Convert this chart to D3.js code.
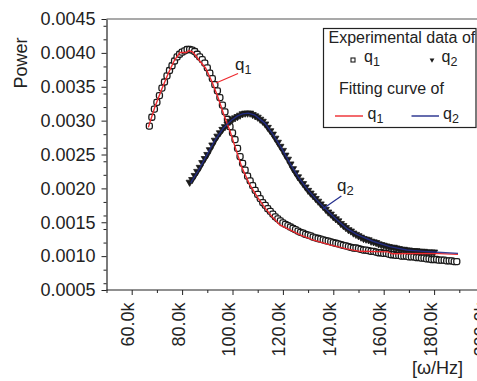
<!DOCTYPE html>
<html><head><meta charset="utf-8">
<script src="https://cdn.jsdelivr.net/npm/d3@7"></script>
<style>html,body{margin:0;padding:0;background:#fff;overflow:hidden}svg{display:block;font-family:"Liberation Sans",Arial,sans-serif}</style>
</head><body>
<svg id="c" width="477" height="381"></svg>
<script>
// frequency in kHz (axis labels show "k")
const q1Freq = [67,68,69,70,71,72,73,74,75,76,77,78,79,80,81,82,83,84,85,86,87,88,89,90,91,92,93,94,95,96,97,98,99,100,
  101,102,103,104,105,106,107,108,109,110,111,112,113,114,115,116,117,118,119,120,121,122,123,124,125,126,127,128,129,130,
  131,132,133,134,135,136,137,138,139,140,141,142,143,144,145,146,147,148,149,150,151,152,153,154,155,156,157,158,159,160,
  161,162,163,164,165,166,167,168,169,170,171,172,173,174,175,176,177,178,179,180,181,182,183,184,185,186,187,188,189];
const q1Power = [.00292,.00305,.00317,.00327,.00337,.00348,.00357,.00366,.00374,.00381,.00388,.00394,.00398,.00401,.00403,.00405,.00405,.00404,.00402,.00398,
  .00394,.00390,.00385,.00378,.00370,.00362,.00353,.00344,.00334,.00323,.00313,.00302,.00291,.00282,
  .00272,.00259,.00247,.00237,.00227,.00218,.00211,.00204,.00197,.00191,.00185,.00179,.00175,.00170,.00166,.00162,.00158,.00155,.00152,.00149,
  .00147,.00145,.00143,.00141,.00139,.00137,.00135,.00134,.00132,.00131,
  .00130,.00128,.00127,.00126,.00125,.00124,.00123,.00122,.00121,.00120,.00119,.00118,.00117,.00116,.00115,.00114,.00113,.00112,.00112,.00111,
  .00110,.00109,.00109,.00108,.00107,.00107,.00106,.00105,.00105,.00104,
  .00104,.00103,.00102,.00102,.00101,.00101,.00100,.00100,.00100,.00099,.00099,.00099,.00098,.00098,.00097,.00097,.00096,.00096,.00095,.00095,
  .00095,.00094,.00094,.00094,.00093,.00093,.00093,.00092,.00092];

const q2Freq = [83,84,85,86,87,88,89,90,91,92,93,94,95,96,97,98,99,100,
  101,102,103,104,105,106,107,108,109,110,111,112,113,114,115,116,117,118,119,120,121,122,123,124,125,126,127,128,129,130,
  131,132,133,134,135,136,137,138,139,140,141,142,143,144,145,146,147,148,149,150,151,152,153,154,155,156,157,158,159,160,
  161,162,163,164,165,166,167,168,169,170,171,172,173,174,175,176,177,178,179,180];
const q2Power = [.00209,.00213,.00219,.00225,.00231,.00238,.00244,.00250,.00257,.00264,.00271,.00277,.00282,.00287,.00291,.00295,.00299,.00302,
  .00304,.00306,.00308,.00310,.00311,.00311,.00311,.00309,.00307,.00305,.00302,.00299,.00295,.00290,.00285,.00280,.00274,.00268,.00262,.00256,
  .00249,.00243,.00236,.00229,.00223,.00217,.00212,.00207,.00202,.00197,
  .00193,.00189,.00185,.00181,.00177,.00173,.00169,.00165,.00162,.00158,.00155,.00152,.00148,.00145,.00142,.00139,.00137,.00134,.00132,.00130,
  .00128,.00126,.00125,.00124,.00122,.00121,.00120,.00118,.00117,.00116,
  .00115,.00114,.00113,.00113,.00112,.00111,.00110,.00110,.00109,.00109,.00108,.00108,.00108,.00107,.00107,.00107,.00106,.00106,.00106,.00106];

const q1FitFreq = [66.6,69.2,71.8,74.4,77.0,79.2,81.7,82.7,84.3,86.7,89.3,91.9,94.2,96.6,99.0,101.4,103.8,106.9,110.1,112.9,116.1,118.8,122.8,126.8,131.9,138.7,145.3,150.6,161.7,163.3,179.6,189.5];
const q1FitPower = [.00290,.00320,.003453,.003689,.003895,.004006,.004006,.004035,.004013,.003895,.003777,.003571,.003349,.003084,.002848,.002568,.002302,.002051,.00186,.001712,.001565,.001461,.001388,.001314,.00124,.001166,.001107,.001071,.001063,.001034,.001041,.001026];

const q2FitFreq = [83.4,86.4,89.8,93.0,96.4,99.7,102.0,104.0,106.3,108.9,112.9,116.2,119.5,122.8,126.1,129.4,133.4,137.4,141.3,145.3,149.3,155.7,162.5,169.1,175.7,179.6,189.5];
const q2FitPower = [.00208,.00226,.00249,.00271,.00289,.00301,.00307,.00310,.00311,.00308,.00296,.00279,.00259,.00237,.00217,.00200,.00183,.00168,.00154,.00141,.00132,.00122,.00114,.00109,.00107,.00106,.00104];

const xTickValues = [60,80,100,120,140,160,180,200];
const xTickLabels = ["60.0k","80.0k","100.0k","120.0k","140.0k","160.0k","180.0k","200.0k"];
const yTickValues = [0.0005,0.0010,0.0015,0.0020,0.0025,0.0030,0.0035,0.0040,0.0045];
const yTickLabels = ["0.0005","0.0010","0.0015","0.0020","0.0025","0.0030","0.0035","0.0040","0.0045"];

const RED = "#ee2a2f", BLUE = "#232d8c", INK = "#222";
const svg = d3.select("#c");
const x = d3.scaleLinear().domain([50,200]).range([106.5,484.5]);
const y = d3.scaleLinear().domain([0.0005,0.0045]).range([290,19]);

// top frame
svg.append("line").attr("x1",x(50)).attr("x2",x(215)).attr("y1",y(0.0045)).attr("y2",y(0.0045))
  .attr("stroke","#555").attr("stroke-width",1.2);

// y axis
const gyMinor = svg.append("g").attr("transform",`translate(${x(50)},0)`)
  .call(d3.axisLeft(y).tickValues(y.ticks(16).filter(v=>!yTickValues.some(m=>Math.abs(m-v)<1e-9))).tickSize(3).tickSizeOuter(0).tickFormat(""));
gyMinor.select(".domain").remove();
const gy = svg.append("g").attr("transform",`translate(${x(50)},0)`)
  .call(d3.axisLeft(y).tickValues(yTickValues).tickFormat((d,i)=>yTickLabels[i]).tickSize(5).tickSizeOuter(0).tickPadding(6));
gy.selectAll("text").attr("font-size",18).attr("fill",INK).attr("font-family","Liberation Sans, Arial, sans-serif");
gy.select(".domain").attr("stroke",INK).attr("stroke-width",1.2);

// x axis
const gxMinor = svg.append("g").attr("transform",`translate(0,${y(0.0005)})`)
  .call(d3.axisBottom(x).tickValues(d3.range(50,210,10).filter(v=>!xTickValues.includes(v))).tickSize(3).tickSizeOuter(0).tickFormat(""));
gxMinor.select(".domain").remove();
const gx = svg.append("g").attr("transform",`translate(0,${y(0.0005)})`)
  .call(d3.axisBottom(x).tickValues(xTickValues).tickFormat((d,i)=>xTickLabels[i]).tickSize(5).tickSizeOuter(0));
gx.select(".domain").attr("stroke",INK).attr("stroke-width",1.2).attr("d",`M${x(50)},0H${x(215)}`);
gx.selectAll("text").attr("font-size",18).attr("fill",INK).attr("font-family","Liberation Sans, Arial, sans-serif")
  .attr("transform","rotate(-90)").attr("text-anchor","end").attr("x",-12.5).attr("y",2).attr("dy",0);
svg.selectAll(".tick line").attr("stroke",INK);

// axis titles
svg.append("text").attr("transform","translate(27,63) rotate(-90)").attr("text-anchor","middle")
  .attr("font-size",18).attr("fill",INK).text("Power");
svg.append("text").attr("x",437.5).attr("y",374).attr("text-anchor","middle")
  .attr("font-size",18).attr("fill",INK).text("[ω/Hz]");

// data markers
const sq = 6;
svg.append("g").selectAll("rect").data(q1Freq.map((f,i)=>[f,q1Power[i]])).join("rect")
  .attr("x",d=>x(d[0])-sq/2).attr("y",d=>y(d[1])-sq/2).attr("width",sq).attr("height",sq).attr("rx",1.8)
  .attr("fill","#fff").attr("stroke","#1a1a1a").attr("stroke-width",1.3);
const tri = d3.symbol().type(d3.symbolTriangle).size(22);
svg.append("g").selectAll("path").data(q2Freq.map((f,i)=>[f,q2Power[i]])).join("path")
  .attr("d",tri).attr("transform",d=>`translate(${x(d[0])},${y(d[1])}) rotate(180)`)
  .attr("fill","#1a1a1a").attr("stroke","#1a1a1a").attr("stroke-width",0.8);

// fitting curves
const line = d3.line().x(d=>x(d[0])).y(d=>y(d[1]));
svg.append("path").datum(q1FitFreq.map((f,i)=>[f,q1FitPower[i]])).attr("d",line)
  .attr("fill","none").attr("stroke",RED).attr("stroke-width",1.4);
svg.append("path").datum(q2FitFreq.map((f,i)=>[f,q2FitPower[i]])).attr("d",line)
  .attr("fill","none").attr("stroke",BLUE).attr("stroke-width",1.4).attr("stroke-opacity",0.9);

// annotations
function qLabel(g, px, py, sub, size, subSize, col){
  const t = g.append("text").attr("x",px).attr("y",py).attr("font-size",size).attr("fill",col||INK);
  t.append("tspan").text("q");
  t.append("tspan").attr("dy",4).attr("font-size",subSize).text(sub);
  return t;
}
svg.append("line").attr("x1",x(93.45)).attr("y1",y(0.003556)).attr("x2",x(102.2)).attr("y2",y(0.003696))
  .attr("stroke",RED).attr("stroke-width",1.2);
qLabel(svg, x(101.0), y(0.003748), "1", 17, 12.5);
svg.append("line").attr("x1",x(135.9)).attr("y1",y(0.001698)).attr("x2",x(143.2)).attr("y2",y(0.001889))
  .attr("stroke",BLUE).attr("stroke-width",1.2);
qLabel(svg, x(141.5), y(0.001963), "2", 17, 13);

// legend
const lg = svg.append("g");
lg.append("rect").attr("x",323.5).attr("y",28.5).attr("width",152.5).attr("height",99)
  .attr("fill","#fff").attr("stroke",INK).attr("stroke-width",1.2);
lg.append("text").attr("x",328.5).attr("y",43).attr("font-size",16).attr("fill",INK).text("Experimental data of");
lg.append("rect").attr("x",351).attr("y",58).attr("width",4).attr("height",4).attr("fill","#fff").attr("stroke","#1a1a1a").attr("stroke-width",1.1);
qLabel(lg, 364, 61.5, "1", 16, 12.5);
lg.append("path").attr("d",d3.symbol().type(d3.symbolTriangle).size(10)).attr("transform","translate(432,60) rotate(180)")
  .attr("fill","#1a1a1a");
qLabel(lg, 441.5, 61.5, "2", 16, 12.5);
lg.append("text").attr("x",339).attr("y",94).attr("font-size",16).attr("fill",INK).text("Fitting curve of");
lg.append("line").attr("x1",335).attr("x2",363).attr("y1",116).attr("y2",116).attr("stroke",RED).attr("stroke-width",1.4);
qLabel(lg, 367.5, 118.5, "1", 16, 12.5);
lg.append("line").attr("x1",411.5).attr("x2",439).attr("y1",116).attr("y2",116).attr("stroke",BLUE).attr("stroke-width",1.4);
qLabel(lg, 443, 118.5, "2", 16, 12.5);
</script>
</body></html>
